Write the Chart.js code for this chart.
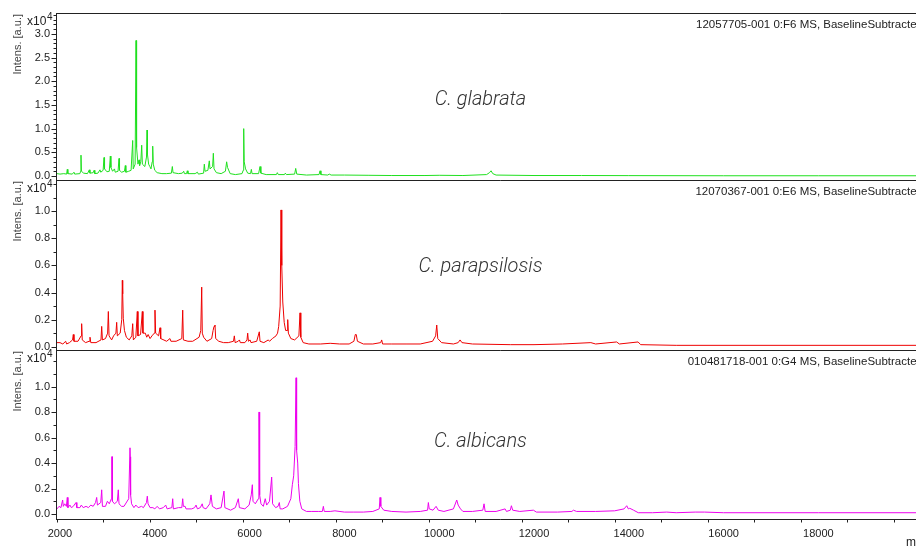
<!DOCTYPE html>
<html>
<head>
<meta charset="utf-8">
<script src="https://cdn.jsdelivr.net/npm/chart.js@4.4.1/dist/chart.umd.min.js"></script>
<style>
html,body{margin:0;padding:0;background:#fff;overflow:hidden;width:916px;height:546px;position:relative;}
canvas{position:absolute;left:0;}
</style>
</head>
<body>
<canvas id="c1" width="944" height="187" style="top:0px;width:944px;height:187px"></canvas>
<canvas id="c2" width="944" height="178" style="top:179px;width:944px;height:178px"></canvas>
<canvas id="c3" width="944" height="197" style="top:349px;width:944px;height:197px"></canvas>
<script>
// ---------------- DATA (m/z, intensity x10^4) ----------------
const speciesNames = ["C. glabrata", "C. parapsilosis", "C. albicans"];
const spectrumIds = [
  "12057705-001 0:F6 MS, BaselineSubtracted",
  "12070367-001 0:E6 MS, BaselineSubtracted",
  "010481718-001 0:G4 MS, BaselineSubtracted"
];
const xTickLabels = [2000, 4000, 6000, 8000, 10000, 12000, 14000, 16000, 18000];
const yTicksGlabrata = [0.0, 0.5, 1.0, 1.5, 2.0, 2.5, 3.0];
const yTicksParapsilosis = [0.0, 0.2, 0.4, 0.6, 0.8, 1.0];
const yTicksAlbicans = [0.0, 0.2, 0.4, 0.6, 0.8, 1.0];

const glabrata = [
  [1937,0.05],[2000,0.04],[2080,0.05],[2140,0.04],[2154,0.14],[2166,0.05],[2260,0.04],[2295,0.08],[2310,0.04],
  [2420,0.05],[2436,0.10],[2443,0.44],[2452,0.10],[2500,0.06],[2580,0.05],[2619,0.13],[2632,0.06],[2700,0.07],[2720,0.12],
  [2735,0.05],[2800,0.06],[2844,0.13],[2860,0.08],[2910,0.12],[2929,0.39],[2940,0.15],[2990,0.09],[3040,0.10],
  [3062,0.42],[3074,0.18],[3110,0.10],[3150,0.15],[3165,0.08],[3225,0.10],[3245,0.37],[3256,0.12],[3300,0.08],
  [3360,0.10],[3378,0.22],[3390,0.08],[3450,0.10],[3500,0.12],[3534,0.75],[3545,0.15],[3585,0.25],[3604,2.86],
  [3612,2.62],[3620,0.60],[3645,0.25],[3667,0.34],[3680,0.22],[3705,0.30],[3724,0.65],[3738,0.25],[3790,0.20],
  [3825,0.40],[3836,0.97],[3846,0.45],[3870,0.25],[3895,0.20],[3920,0.15],[3945,0.30],[3956,0.63],[3968,0.25],
  [4000,0.12],[4050,0.07],[4150,0.05],[4250,0.05],[4350,0.06],[4370,0.20],[4385,0.07],[4500,0.05],[4580,0.06],
  [4610,0.10],[4625,0.05],[4670,0.05],[4686,0.11],[4700,0.05],[4850,0.05],[4900,0.08],[4920,0.04],[5030,0.06],
  [5045,0.25],[5060,0.10],[5120,0.12],[5150,0.32],[5165,0.15],[5220,0.20],[5235,0.48],[5250,0.15],[5300,0.07],
  [5400,0.05],[5490,0.10],[5516,0.30],[5535,0.18],[5590,0.05],[5700,0.03],[5840,0.05],[5865,0.12],[5876,1.00],[5886,0.30],
  [5915,0.15],[5960,0.06],[6020,0.05],[6037,0.14],[6052,0.05],[6190,0.05],[6220,0.20],[6238,0.06],[6350,0.03],
  [6565,0.03],[6585,0.07],[6605,0.03],[6735,0.03],[6754,0.06],[6775,0.03],[6950,0.04],[6973,0.16],[6995,0.04],
  [7200,0.02],[7465,0.03],[7486,0.11],[7505,0.03],[7650,0.02],[7680,0.04],[7720,0.02],[8000,0.02],[8500,0.015],
  [9000,0.01],[9700,0.01],[10000,0.015],[10500,0.01],[11000,0.03],[11060,0.07],[11094,0.11],[11130,0.05],
  [11200,0.02],[12000,0.01],[13000,0.01],[14000,0.008],[16000,0.005],[18000,0.005],[20565,0.005]
];

const parapsilosis = [
  [1937,0.03],[2000,0.03],[2060,0.02],[2120,0.04],[2140,0.02],[2200,0.03],[2265,0.05],[2281,0.09],[2295,0.04],
  [2380,0.04],[2445,0.08],[2457,0.17],[2470,0.05],[2540,0.03],[2615,0.04],[2633,0.07],[2650,0.03],[2760,0.03],
  [2865,0.05],[2880,0.15],[2895,0.05],[2960,0.06],[3005,0.10],[3020,0.26],[3035,0.08],[3090,0.05],[3130,0.08],
  [3180,0.10],[3196,0.18],[3210,0.08],[3270,0.10],[3303,0.20],[3315,0.49],[3323,0.39],[3335,0.21],[3360,0.12],
  [3400,0.07],[3460,0.05],[3515,0.08],[3534,0.17],[3548,0.05],[3600,0.07],[3631,0.26],[3645,0.08],[3700,0.09],
  [3737,0.26],[3750,0.10],[3800,0.10],[3830,0.07],[3860,0.09],[3900,0.06],[3940,0.08],[3990,0.10],[4004,0.27],
  [4018,0.10],[4080,0.08],[4110,0.14],[4125,0.06],[4250,0.04],[4320,0.06],[4340,0.04],[4450,0.04],[4570,0.06],
  [4589,0.27],[4603,0.05],[4700,0.04],[4800,0.04],[4935,0.07],[4970,0.12],[4990,0.44],[5002,0.10],[5030,0.07],
  [5100,0.04],[5200,0.06],[5230,0.12],[5250,0.15],[5270,0.16],[5285,0.06],[5350,0.04],[5450,0.03],[5550,0.03],
  [5660,0.04],[5678,0.08],[5695,0.03],[5760,0.04],[5785,0.05],[5805,0.03],[5900,0.03],[5945,0.05],[5960,0.10],
  [5975,0.04],[6010,0.05],[6030,0.03],[6150,0.04],[6205,0.11],[6220,0.04],[6300,0.03],[6395,0.05],[6420,0.04],
  [6480,0.06],[6557,0.08],[6590,0.10],[6614,0.15],[6645,0.30],[6663,1.01],[6675,0.87],[6682,0.60],[6700,0.33],
  [6730,0.18],[6760,0.12],[6790,0.12],[6804,0.20],[6818,0.10],[6870,0.06],[6950,0.05],[7040,0.08],[7064,0.25],
  [7080,0.07],[7130,0.03],[7250,0.02],[7500,0.02],[7700,0.025],[7900,0.02],[8100,0.02],[8200,0.04],[8230,0.09],
  [8250,0.09],[8275,0.04],[8400,0.02],[8600,0.02],[8765,0.03],[8787,0.05],[8805,0.02],[9000,0.02],[9300,0.02],
  [9600,0.02],[9860,0.04],[9925,0.08],[9948,0.16],[9970,0.06],[10050,0.03],[10300,0.02],[10400,0.03],[10440,0.05],
  [10480,0.03],[10700,0.02],[11500,0.015],[12000,0.015],[12600,0.02],[13200,0.03],[13300,0.02],[13744,0.035],
  [13800,0.02],[14196,0.035],[14250,0.015],[15000,0.01],[17000,0.01],[20565,0.01]
];

const albicans = [
  [1937,0.04],[1980,0.06],[2020,0.05],[2056,0.11],[2070,0.06],[2100,0.08],[2135,0.06],[2154,0.13],[2168,0.05],
  [2210,0.07],[2240,0.05],[2280,0.06],[2338,0.09],[2355,0.05],[2420,0.05],[2450,0.07],[2490,0.05],[2550,0.06],
  [2600,0.05],[2650,0.07],[2700,0.06],[2750,0.09],[2774,0.13],[2790,0.07],[2860,0.09],[2880,0.19],[2895,0.06],
  [2960,0.06],[3000,0.10],[3040,0.08],[3085,0.12],[3093,0.45],[3100,0.45],[3106,0.10],[3150,0.08],[3210,0.10],[3230,0.19],
  [3245,0.08],[3300,0.06],[3350,0.06],[3450,0.12],[3477,0.52],[3483,0.45],[3490,0.15],[3510,0.08],[3560,0.05],
  [3600,0.07],[3650,0.05],[3720,0.06],[3760,0.05],[3825,0.09],[3842,0.14],[3858,0.08],[3900,0.05],[3960,0.05],
  [4000,0.04],[4050,0.06],[4100,0.04],[4180,0.05],[4230,0.07],[4260,0.04],[4360,0.05],[4378,0.12],[4392,0.04],
  [4500,0.05],[4570,0.05],[4589,0.12],[4603,0.06],[4640,0.06],[4660,0.04],[4780,0.04],[4840,0.05],[4870,0.07],
  [4900,0.04],[4960,0.05],[5000,0.08],[5020,0.05],[5080,0.04],[5160,0.08],[5186,0.15],[5215,0.06],[5300,0.04],
  [5400,0.05],[5460,0.18],[5478,0.05],[5600,0.03],[5700,0.05],[5762,0.12],[5785,0.05],[5900,0.04],[5990,0.07],
  [6035,0.15],[6058,0.23],[6072,0.10],[6120,0.08],[6185,0.12],[6196,0.80],[6203,0.80],[6212,0.15],[6240,0.08],[6290,0.06],
  [6330,0.12],[6360,0.07],[6420,0.10],[6466,0.29],[6485,0.08],[6550,0.05],[6600,0.06],[6627,0.09],[6645,0.04],
  [6700,0.04],[6800,0.06],[6870,0.12],[6902,0.23],[6930,0.30],[6960,0.53],[6980,1.07],[6988,0.87],[6996,0.50],
  [7015,0.40],[7030,0.24],[7060,0.10],[7100,0.04],[7200,0.02],[7300,0.02],[7450,0.02],[7535,0.02],[7556,0.06],
  [7575,0.02],[7700,0.02],[7800,0.025],[8000,0.015],[8200,0.015],[8400,0.015],[8600,0.02],[8735,0.04],[8752,0.13],
  [8768,0.06],[8830,0.03],[9000,0.02],[9300,0.015],[9600,0.02],[9755,0.03],[9771,0.09],[9790,0.04],[9870,0.03],
  [9934,0.06],[9980,0.03],[10100,0.02],[10300,0.04],[10370,0.11],[10400,0.07],[10450,0.04],[10500,0.02],
  [10700,0.02],[10920,0.03],[10946,0.08],[10970,0.02],[11200,0.02],[11390,0.04],[11420,0.02],[11500,0.03],
  [11523,0.065],[11550,0.03],[11700,0.02],[11987,0.03],[12050,0.015],[12500,0.015],[12800,0.02],[12830,0.03],
  [12900,0.02],[13300,0.02],[13700,0.025],[13900,0.04],[13956,0.065],[13990,0.04],[14020,0.045],[14100,0.03],
  [14200,0.01],[14500,0.01],[14800,0.015],[15000,0.01],[15400,0.015],[15600,0.015],[16000,0.01],[18000,0.01],
  [20565,0.01]
];

// ---------------- RENDERING ----------------
const FONT = "'Liberation Sans', Arial, Helvetica, sans-serif";
const X_MIN = 1937, X_MAX = 20565;

function isIn(list, v) { return list.some(m => Math.abs(m - v) < 1e-6); }

function panelPlugin(cfg) {
  return {
    id: 'panelDecor',
    afterDraw(chart) {
      const ctx = chart.ctx, a = chart.chartArea;
      const x = chart.scales.x, y = chart.scales.y;
      ctx.save();
      ctx.strokeStyle = '#222';
      ctx.lineWidth = 1;
      // top frame line
      ctx.beginPath();
      ctx.moveTo(a.left - 0.5, a.top + 0.5); ctx.lineTo(chart.width, a.top + 0.5);
      ctx.stroke();
      // y axis line
      ctx.beginPath();
      ctx.moveTo(a.left - 0.5, a.top); ctx.lineTo(a.left - 0.5, a.bottom + 1);
      ctx.stroke();
      // y ticks
      y.ticks.forEach(t => {
        const py = Math.round(y.getPixelForValue(t.value)) + 0.5;
        if (py < a.top + 1 || py > a.bottom) return;
        const len = isIn(cfg.yMajor, t.value) ? 5 : 3;
        ctx.beginPath(); ctx.moveTo(a.left - 0.5 - len, py); ctx.lineTo(a.left - 0.5, py); ctx.stroke();
      });
      // x axis (bottom panel)
      if (cfg.showX) {
        ctx.beginPath();
        ctx.moveTo(a.left - 0.5, a.bottom + 0.5); ctx.lineTo(chart.width, a.bottom + 0.5);
        ctx.stroke();
        x.ticks.forEach(t => {
          const px = Math.round(x.getPixelForValue(t.value)) + 0.5;
          const len = (t.value % 2000 === 0) ? 4 : 3;
          ctx.beginPath(); ctx.moveTo(px, a.bottom + 0.5); ctx.lineTo(px, a.bottom + 0.5 + len); ctx.stroke();
        });
        ctx.fillStyle = '#222';
        ctx.font = '11px ' + FONT;
        ctx.textAlign = 'center'; ctx.textBaseline = 'alphabetic';
        xTickLabels.forEach(v => {
          ctx.fillText(String(v), x.getPixelForValue(v), a.bottom + 18);
        });
        ctx.textAlign = 'left';
        ctx.font = '12px ' + FONT;
        ctx.fillText('m/z', 906, chart.height - 0.5);
      }
      // y axis title (rotated)
      ctx.fillStyle = '#444';
      ctx.font = '11px ' + FONT;
      ctx.save();
      ctx.translate(17.5, a.top + 1);
      ctx.rotate(-Math.PI / 2);
      ctx.textAlign = 'right'; ctx.textBaseline = 'middle';
      ctx.fillText('Intens. [a.u.]', 0, 0);
      ctx.restore();
      // x10^4
      ctx.fillStyle = '#222';
      ctx.textAlign = 'left'; ctx.textBaseline = 'alphabetic';
      ctx.font = '12px ' + FONT;
      ctx.fillText('x10', 27, a.top + 11.5);
      ctx.font = '10px ' + FONT;
      ctx.fillText('4', 47, a.top + 7);
      // spectrum id header
      ctx.font = '11.5px ' + FONT;
      ctx.textAlign = 'right';
      ctx.fillText(cfg.header, 923, a.top + 15);
      // species name
      ctx.fillStyle = '#333';
      ctx.font = 'italic 300 20px Roboto, ' + FONT;
      ctx.textAlign = 'center';
      ctx.fillText(cfg.species, 480.5, cfg.speciesY);
      ctx.restore();
    }
  };
}

function makePanel(cfg) {
  return new Chart(document.getElementById(cfg.id), {
    type: 'line',
    data: {
      datasets: [{
        data: cfg.data.map(p => ({ x: p[0], y: p[1] })),
        borderColor: cfg.color,
        borderWidth: 1,
        pointRadius: 0,
        tension: 0,
        fill: false
      }]
    },
    options: {
      responsive: false,
      animation: false,
      layout: { padding: cfg.padding },
      plugins: { legend: { display: false }, tooltip: { enabled: false } },
      scales: {
        x: {
          type: 'linear', min: X_MIN, max: X_MAX, display: cfg.showX,
          afterFit: s => { s.height = cfg.showX ? 27 : 0; s.paddingLeft = 0; s.paddingRight = 0; },
          grid: { display: false, drawTicks: false },
          border: { display: false },
          ticks: {
            stepSize: 1000, autoSkip: false, includeBounds: false, maxRotation: 0,
            display: false
          }
        },
        y: {
          type: 'linear', min: cfg.yMin, max: cfg.yMax,
          afterFit: s => { s.width = 57; s.paddingTop = 0; s.paddingBottom = 0; },
          grid: { display: false, drawTicks: false },
          border: { display: false },
          ticks: {
            stepSize: 0.1, autoSkip: false, includeBounds: false, padding: 7,
            color: '#222', font: { family: FONT, size: 11 },
            callback: v => isIn(cfg.yMajor, v) ? Number(v).toFixed(1) : ''
          }
        }
      }
    },
    plugins: [panelPlugin(cfg)]
  });
}

makePanel({ id: 'c1', data: glabrata, color: '#1fe01f', yMin: -0.0844, yMax: 3.44, yMajor: yTicksGlabrata,
  header: spectrumIds[0], species: speciesNames[0], speciesY: 105, showX: false,
  padding: { top: 13, bottom: 7, left: 0, right: 4 } });
makePanel({ id: 'c2', data: parapsilosis, color: '#ee0000', yMin: -0.0244, yMax: 1.231, yMajor: yTicksParapsilosis,
  header: spectrumIds[1], species: speciesNames[1], speciesY: 271.7 - 179, showX: false,
  padding: { top: 1, bottom: 7, left: 0, right: 4 } });
makePanel({ id: 'c3', data: albicans, color: '#ee00ee', yMin: -0.0393, yMax: 1.288, yMajor: yTicksAlbicans,
  header: spectrumIds[2], species: speciesNames[2], speciesY: 446.5 - 349, showX: true,
  padding: { top: 1, bottom: 0, left: 0, right: 4 } });
</script>
</body>
</html>
